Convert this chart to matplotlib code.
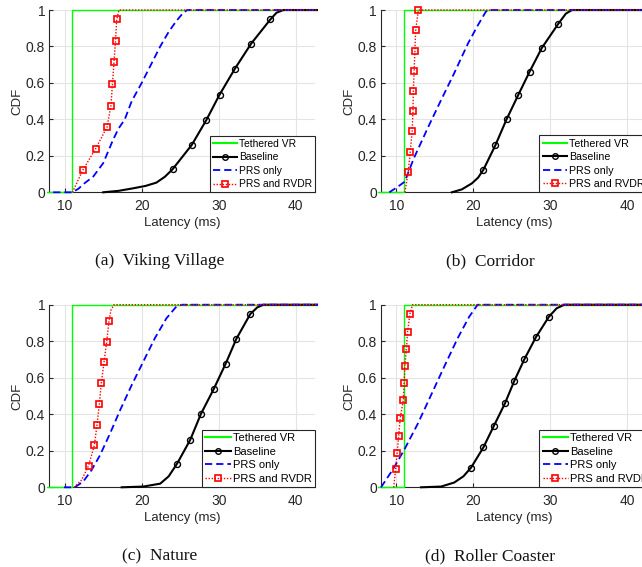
import matplotlib
matplotlib.use('Agg')
import matplotlib.pyplot as plt
from matplotlib.patches import Rectangle
from matplotlib.lines import Line2D

plt.rcParams['font.family'] = ['Liberation Sans', 'DejaVu Sans']

# ---------------- data ----------------
SERIES = ['Tethered VR', 'Baseline', 'PRS only', 'PRS and RVDR']
X_TICKS = [10, 20, 30, 40]
Y_TICKS = [0, 0.2, 0.4, 0.6, 0.8, 1]
Y_TICK_LABELS = ['0', '0.2', '0.4', '0.6', '0.8', '1']
CAPTIONS = ['(a)  Viking Village', '(b)  Corridor', '(c)  Nature', '(d)  Roller Coaster']
X_LABEL = 'Latency (ms)'
Y_LABEL = 'CDF'

# (a) Viking Village
a_teth_x = [7, 11, 11, 45]
a_teth_y = [0, 0, 1, 1]
a_base_lo_x = [15.0, 17.0, 18.9, 20.5, 21.9, 23.0]
a_base_lo_y = [0.0, 0.008, 0.022, 0.035, 0.053, 0.085]
a_base_mk_x = [24.0, 26.5, 28.4, 30.1, 32.1, 34.2, 36.7]
a_base_mk_y = [0.126, 0.26, 0.397, 0.535, 0.678, 0.815, 0.948]
a_base_hi_x = [37.5, 38.4, 45]
a_base_hi_y = [0.985, 1.0, 1.0]
a_prs_x = [8.5, 11.0, 11.8, 12.4, 13.7, 15.0, 15.4, 16.3, 17.0, 17.8, 18.7, 20.0, 21.2, 22.4, 23.5, 24.5, 25.3, 25.9, 45]
a_prs_y = [0, 0, 0.02, 0.044, 0.086, 0.16, 0.2, 0.29, 0.35, 0.4, 0.5, 0.6, 0.7, 0.8, 0.88, 0.94, 0.98, 1.0, 1.0]
a_rvdr_lo_x = [11.0]
a_rvdr_lo_y = [0.0]
a_rvdr_mk_x = [12.34, 14.0, 15.5, 16.0, 16.2, 16.4, 16.6, 16.75]
a_rvdr_mk_y = [0.121, 0.238, 0.358, 0.475, 0.592, 0.713, 0.832, 0.949]
a_rvdr_hi_x = [17.05, 45]
a_rvdr_hi_y = [1.0, 1.0]

# (b) Corridor
b_teth_x = [7, 11, 11, 45]
b_teth_y = [0, 0, 1, 1]
b_base_lo_x = [17.2, 18.5, 19.8, 20.6]
b_base_lo_y = [0.0, 0.016, 0.049, 0.08]
b_base_mk_x = [21.3, 22.85, 24.3, 25.8, 27.3, 28.9, 31.0]
b_base_mk_y = [0.124, 0.258, 0.4, 0.532, 0.662, 0.793, 0.923]
b_base_hi_x = [32.0, 32.8, 45]
b_base_hi_y = [0.98, 1.0, 1.0]
b_prs_x = [9.08, 10.2, 11.07, 12.3, 14.15, 15.8, 17.5, 19.3, 20.6, 21.6, 21.9, 45]
b_prs_y = [0, 0.031, 0.058, 0.19, 0.36, 0.506, 0.653, 0.817, 0.918, 0.99, 1.0, 1.0]
b_rvdr_lo_x = [11.1]
b_rvdr_lo_y = [0.0]
b_rvdr_mk_x = [11.55, 11.8, 12.05, 12.15, 12.2, 12.3, 12.4, 12.5, 12.85]
b_rvdr_mk_y = [0.113, 0.223, 0.336, 0.446, 0.556, 0.665, 0.777, 0.888, 0.998]
b_rvdr_hi_x = [12.9, 45]
b_rvdr_hi_y = [1.0, 1.0]

# (c) Nature
c_teth_x = [7, 11, 11, 45]
c_teth_y = [0, 0, 1, 1]
c_base_lo_x = [17.4, 20.2, 22.4, 23.5]
c_base_lo_y = [0.0, 0.004, 0.02, 0.06]
c_base_mk_x = [24.6, 26.3, 27.7, 29.35, 30.9, 32.3, 34.1]
c_base_mk_y = [0.13, 0.26, 0.403, 0.538, 0.677, 0.814, 0.949]
c_base_hi_x = [35.0, 35.8, 45]
c_base_hi_y = [0.985, 1.0, 1.0]
c_prs_x = [9.9, 11.3, 12.4, 13.5, 14.6, 15.9, 17.2, 18.7, 20.2, 21.7, 23.2, 24.5, 25.2, 45]
c_prs_y = [0, 0, 0.031, 0.095, 0.177, 0.296, 0.423, 0.56, 0.688, 0.816, 0.925, 0.99, 1.0, 1.0]
c_rvdr_lo_x = [11.2, 12.2]
c_rvdr_lo_y = [0.0, 0.04]
c_rvdr_mk_x = [13.1, 13.85, 14.2, 14.5, 14.75, 15.1, 15.45, 15.75]
c_rvdr_mk_y = [0.119, 0.23, 0.343, 0.456, 0.569, 0.684, 0.797, 0.91]
c_rvdr_hi_x = [16.0, 16.4, 45]
c_rvdr_hi_y = [0.97, 1.0, 1.0]

# (d) Roller Coaster
d_teth_x = [7, 11, 11, 45]
d_teth_y = [0, 0, 1, 1]
d_base_lo_x = [13.2, 15.8, 17.5, 18.7]
d_base_lo_y = [0.0, 0.004, 0.026, 0.06]
d_base_mk_x = [19.7, 21.3, 22.65, 24.1, 25.3, 26.6, 28.1, 29.8]
d_base_mk_y = [0.108, 0.219, 0.336, 0.46, 0.582, 0.70, 0.821, 0.934]
d_base_hi_x = [30.8, 31.8, 45]
d_base_hi_y = [0.98, 1.0, 1.0]
d_prs_x = [8.0, 9.5, 11.0, 12.8, 14.5, 16.2, 17.95, 19.45, 20.55, 45]
d_prs_y = [0, 0.095, 0.204, 0.35, 0.505, 0.66, 0.816, 0.934, 1.0, 1.0]
d_rvdr_lo_x = [9.65]
d_rvdr_lo_y = [0.0]
d_rvdr_mk_x = [9.9, 10.1, 10.3, 10.5, 10.9, 11.0, 11.1, 11.3, 11.45, 11.75]
d_rvdr_mk_y = [0.099, 0.19, 0.283, 0.381, 0.478, 0.569, 0.664, 0.757, 0.852, 0.949]
d_rvdr_hi_x = [12.1, 45]
d_rvdr_hi_y = [1.0, 1.0]

PANELS = [
    dict(teth=(a_teth_x, a_teth_y), base=(a_base_lo_x, a_base_lo_y, a_base_mk_x, a_base_mk_y, a_base_hi_x, a_base_hi_y),
         prs=(a_prs_x, a_prs_y), rvdr=(a_rvdr_lo_x, a_rvdr_lo_y, a_rvdr_mk_x, a_rvdr_mk_y, a_rvdr_hi_x, a_rvdr_hi_y)),
    dict(teth=(b_teth_x, b_teth_y), base=(b_base_lo_x, b_base_lo_y, b_base_mk_x, b_base_mk_y, b_base_hi_x, b_base_hi_y),
         prs=(b_prs_x, b_prs_y), rvdr=(b_rvdr_lo_x, b_rvdr_lo_y, b_rvdr_mk_x, b_rvdr_mk_y, b_rvdr_hi_x, b_rvdr_hi_y)),
    dict(teth=(c_teth_x, c_teth_y), base=(c_base_lo_x, c_base_lo_y, c_base_mk_x, c_base_mk_y, c_base_hi_x, c_base_hi_y),
         prs=(c_prs_x, c_prs_y), rvdr=(c_rvdr_lo_x, c_rvdr_lo_y, c_rvdr_mk_x, c_rvdr_mk_y, c_rvdr_hi_x, c_rvdr_hi_y)),
    dict(teth=(d_teth_x, d_teth_y), base=(d_base_lo_x, d_base_lo_y, d_base_mk_x, d_base_mk_y, d_base_hi_x, d_base_hi_y),
         prs=(d_prs_x, d_prs_y), rvdr=(d_rvdr_lo_x, d_rvdr_lo_y, d_rvdr_mk_x, d_rvdr_mk_y, d_rvdr_hi_x, d_rvdr_hi_y)),
]

# ---------------- layout / style ----------------
W, H = 642, 567
fig = plt.figure(figsize=(W / 100, H / 100), dpi=100)

# axes rectangles in pixels: left, top, width, height
AX_PX = [(49.3, 10.0, 265.7, 182.3), (381.0, 10.0, 265.7, 182.3),
         (49.3, 304.7, 265.7, 182.6), (381.0, 304.7, 265.7, 182.6)]
XLIM = (8, 42.5)
LEG_LOC = [('lower right', (1.0, 0.0)), ('lower left', (0.596, 0.0)),
           ('lower right', (1.0, 0.0)), ('lower left', (0.596, 0.0))]
LEG_FS = [7.4, 7.7, 8.0, 8.0]
CAP_POS = [(159.5, 265.0), (490.0, 265.0), (160.0, 560.7), (490.3, 560.7)]

AXC = '#262626'
GREEN, BLUE, RED = '#00ff00', '#0000ff', '#ff0000'
BLUE_LS = (0, (4.0, 2.2))
RED_LS = (0, (1.0, 1.2))

for i, (p, (l, t, w, h)) in enumerate(zip(PANELS, AX_PX)):
    ax = fig.add_axes([l / W, 1 - (t + h) / H, w / W, h / H])
    clip = Rectangle((-0.01, -0.03), 1.02, 1.06, transform=ax.transAxes)

    tx, ty = p['teth']
    bl_x, bl_y, bm_x, bm_y, bh_x, bh_y = p['base']
    px_, py_ = p['prs']
    rl_x, rl_y, rm_x, rm_y, rh_x, rh_y = p['rvdr']

    lines = []
    lines += ax.plot(tx, ty, color=GREEN, lw=1.0)
    lines += ax.plot(bl_x + bm_x + bh_x, bl_y + bm_y + bh_y, color='k', lw=1.5)
    lines += ax.plot(bm_x, bm_y, ls='none', marker='o', ms=4.3, mfc='none', mec='k', mew=1.0)
    lines += ax.plot(px_, py_, color=BLUE, lw=1.3, ls=BLUE_LS)
    lines += ax.plot(rl_x + rm_x + rh_x, rl_y + rm_y + rh_y, color=RED, lw=1.0, ls=RED_LS)
    lines += ax.plot(rm_x, rm_y, ls='none', marker='s', ms=4.0, mfc='none', mec=RED, mew=1.2)
    for ln in lines:
        ln.set_zorder(3)
        ln.set_clip_path(clip)

    ax.set_xlim(*XLIM)
    ax.set_ylim(0, 1)
    ax.set_xticks(X_TICKS)
    ax.set_yticks(Y_TICKS)
    ax.set_yticklabels(Y_TICK_LABELS)
    ax.grid(True, color='#e4e4e4', lw=0.8)
    ax.set_axisbelow(True)
    for s in ['top', 'right']:
        ax.spines[s].set_visible(False)
    for s in ['left', 'bottom']:
        ax.spines[s].set_color(AXC)
        ax.spines[s].set_linewidth(0.8)
    ax.tick_params(direction='in', length=3, width=0.8, color=AXC, labelcolor=AXC, labelsize=10)
    ax.tick_params(axis='x', pad=5)
    ax.tick_params(axis='y', pad=3)
    ax.set_xlabel(X_LABEL, fontsize=9.5, color=AXC, labelpad=2.5)
    ax.set_ylabel(Y_LABEL, fontsize=9.5, color=AXC)
    ax.yaxis.set_label_coords(-0.098, 0.5)

    handles = [
        Line2D([], [], color=GREEN, lw=1.5),
        Line2D([], [], color='k', lw=1.5, marker='o', ms=4.0, mfc='none', mec='k', mew=1.0),
        Line2D([], [], color=BLUE, lw=1.3, ls=BLUE_LS),
        Line2D([], [], color=RED, lw=1.0, ls=RED_LS, marker='s', ms=4.0, mfc='none', mec=RED, mew=1.2),
    ]
    loc, anchor = LEG_LOC[i]
    leg = ax.legend(handles, SERIES, loc=loc, bbox_to_anchor=anchor, borderaxespad=0,
                    fontsize=LEG_FS[i], numpoints=1, fancybox=False, framealpha=1,
                    edgecolor=AXC, borderpad=0.3, labelspacing=0.33, handlelength=2.3,
                    handletextpad=0.2)
    leg.get_frame().set_linewidth(0.8)
    leg.set_zorder(5)

    cx, cy = CAP_POS[i]
    fig.text(cx / W, 1 - cy / H, CAPTIONS[i], ha='center', va='baseline',
             family=['Liberation Serif', 'DejaVu Serif'], fontsize=12.5, color='#111111')

fig.savefig('out.png', dpi=100)
